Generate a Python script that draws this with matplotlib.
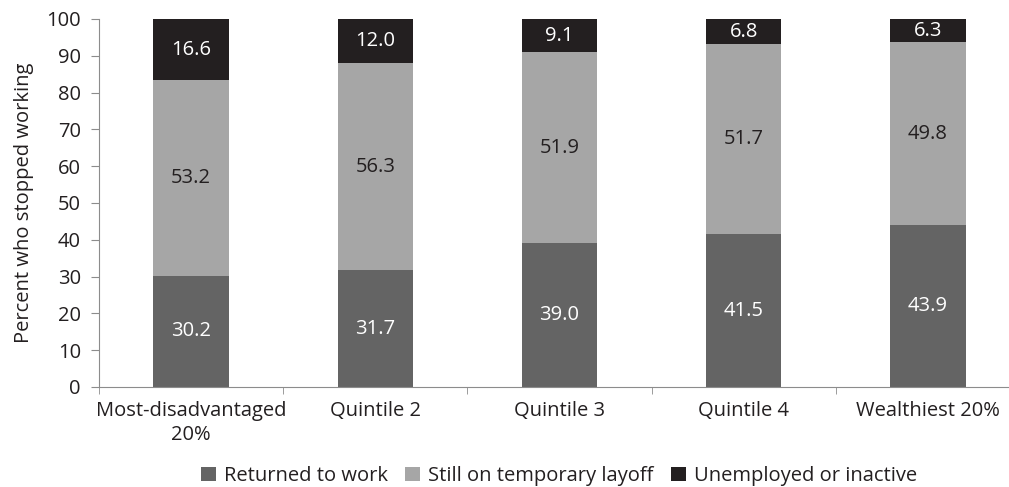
import matplotlib.pyplot as plt
import numpy as np

plt.rcParams['font.family'] = ['Open Sans', 'DejaVu Sans']

groups = ["Most-disadvantaged\n20%", "Quintile 2", "Quintile 3", "Quintile 4", "Wealthiest 20%"]
returned = [30.2, 31.7, 39.0, 41.5, 43.9]
layoff = [53.2, 56.3, 51.9, 51.7, 49.8]
unemployed = [16.6, 12.0, 9.1, 6.8, 6.3]

series = [
    ("Returned to work", returned, "#646464", "white"),
    ("Still on temporary layoff", layoff, "#a6a6a6", "#231f20"),
    ("Unemployed or inactive", unemployed, "#231f20", "white"),
]

fs = 14.5

fig = plt.figure(figsize=(10.09, 4.87), dpi=100)
ax = fig.add_axes([99 / 1009, 100 / 487, 921 / 1009, 368 / 487])

x = np.arange(len(groups))
bottom = np.zeros(len(groups))
for name, vals, col, tcol in series:
    vals = np.array(vals)
    ax.bar(x, vals, 0.41, bottom=bottom, color=col, label=name)
    for xi, b, v in zip(x, bottom, vals):
        ax.text(xi, b + v / 2, f"{v:.1f}", ha="center", va="center",
                color=tcol, fontsize=fs)
    bottom += vals

ax.set_xlim(-0.5, len(groups) - 0.5)
ax.set_ylim(0, 100)
ax.set_yticks(range(0, 101, 10))
ax.set_xticks(x)
ax.set_xticklabels(groups, linespacing=1.3)
ax.set_xticks(np.arange(-0.5, len(groups), 1), minor=True)
ax.tick_params(axis="x", which="major", length=0, pad=10, labelsize=fs, colors="#231f20")
ax.tick_params(axis="x", which="minor", length=5, color="#8c8c8c")
ax.tick_params(axis="y", length=6, pad=7, color="#8c8c8c", labelsize=fs, labelcolor="#231f20")

for s in ["top", "right"]:
    ax.spines[s].set_visible(False)
for s in ["left", "bottom"]:
    ax.spines[s].set_color("#8c8c8c")

ax.set_ylabel("Percent who stopped working", fontsize=fs, color="#231f20", labelpad=9)

# legend centred under the axes, one row
fig.legend(loc="center", bbox_to_anchor=(559 / 1009, 1 - 476 / 487), ncol=3,
           frameon=False, fontsize=fs, handlelength=0.75, handleheight=0.75,
           handletextpad=0.4, columnspacing=0.85, labelcolor="#231f20")

fig.savefig("out.png", dpi=100)
